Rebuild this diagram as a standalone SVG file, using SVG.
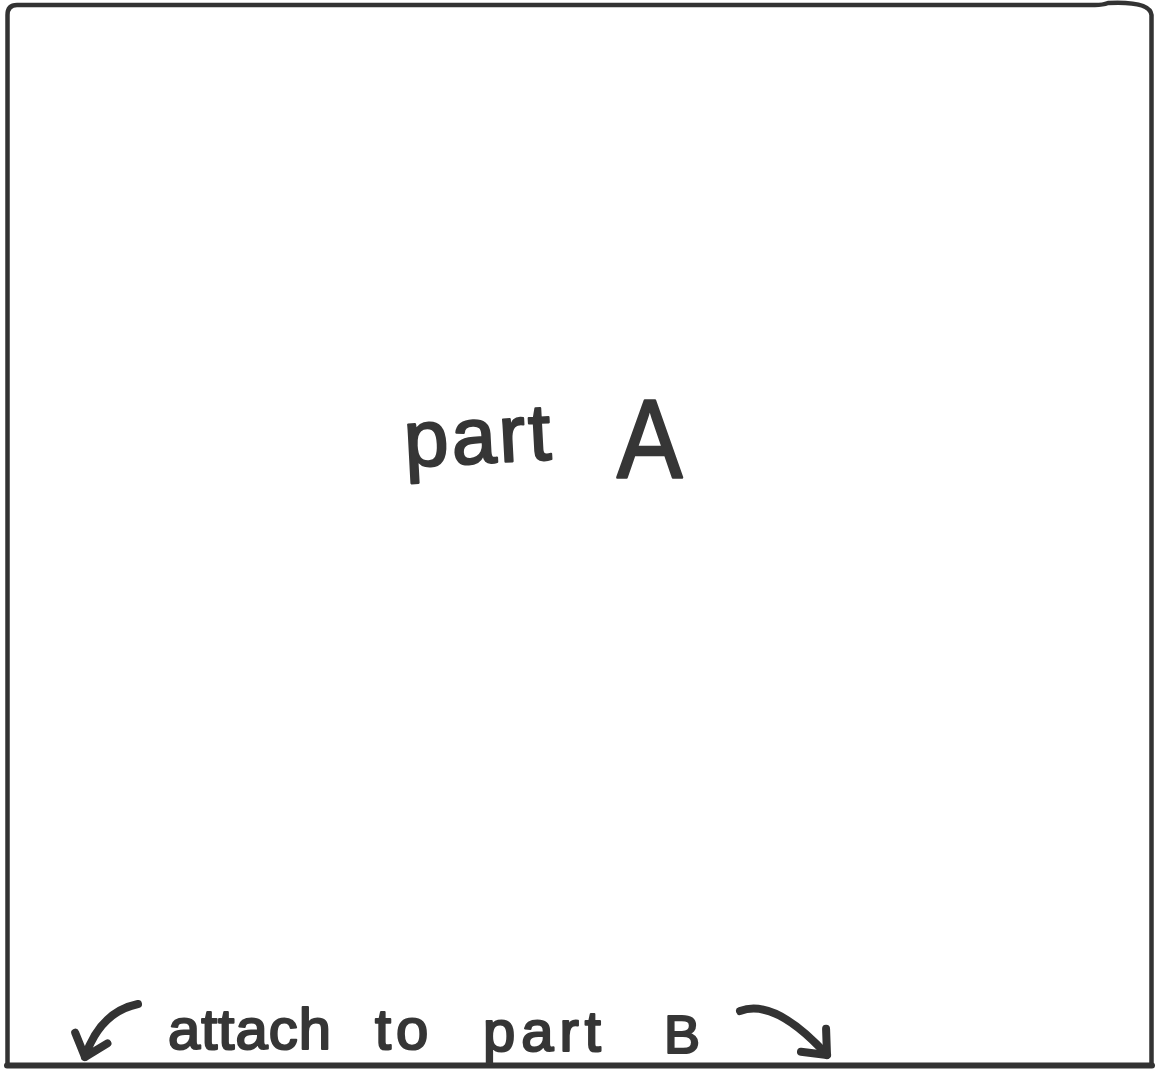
<svg xmlns="http://www.w3.org/2000/svg" width="1156" height="1070" viewBox="0 0 1156 1070">
  <defs>
    <style>
      .ink { fill: #363636; stroke: #363636; stroke-width: 2.2; stroke-linejoin: round; font-family: "Liberation Sans", "DejaVu Sans", sans-serif; }
      .line { fill: none; stroke: #333333; stroke-linecap: round; stroke-linejoin: round; }
      .arrow { fill: none; stroke: #333333; stroke-width: 8; stroke-linecap: round; stroke-linejoin: round; }
    </style>
    <marker id="vhead" viewBox="-30 -24 36 48" refX="0" refY="0" markerWidth="36" markerHeight="48" markerUnits="userSpaceOnUse" orient="auto" overflow="visible">
      <path d="M-20,-17 L0,0 L-20,17" fill="none" stroke="#333333" stroke-width="8" stroke-linecap="round" stroke-linejoin="round"/>
    </marker>
  </defs>
  <rect x="0" y="0" width="1156" height="1070" fill="#ffffff"/>
  <g id="frame">
    <path class="line" d="M7.5,1064 L7.5,15 Q7.5,5 17,5 L1095,5 Q1103,5 1108,3 Q1150,1 1151.5,15 L1151.5,1064" stroke-width="4.5"/>
    <path class="line" d="M7,1065.5 L1152,1065.5" stroke-width="6"/>
  </g>
  <g id="part-a">
    <text class="ink" x="405" y="463" font-size="80" letter-spacing="3" transform="rotate(-3 480 460)">part</text>
    <text class="ink" font-size="100" transform="translate(617 477) scale(0.98 1.12)">A</text>
  </g>
  <g id="attach-label">
    <text class="ink" font-size="58"><tspan x="168" y="1049" letter-spacing="1">attach</tspan><tspan x="375" y="1049" letter-spacing="5">to</tspan><tspan x="483" y="1051" letter-spacing="6">part</tspan><tspan x="664" y="1053" font-size="54">B</tspan></text>
  </g>
  <g id="connectors">
    <path class="arrow" d="M138,1004 Q100,1012 85,1057" marker-end="url(#vhead)"/>
    <path class="arrow" d="M740,1011 Q775,998 827,1055" marker-end="url(#vhead)"/>
  </g>
</svg>
